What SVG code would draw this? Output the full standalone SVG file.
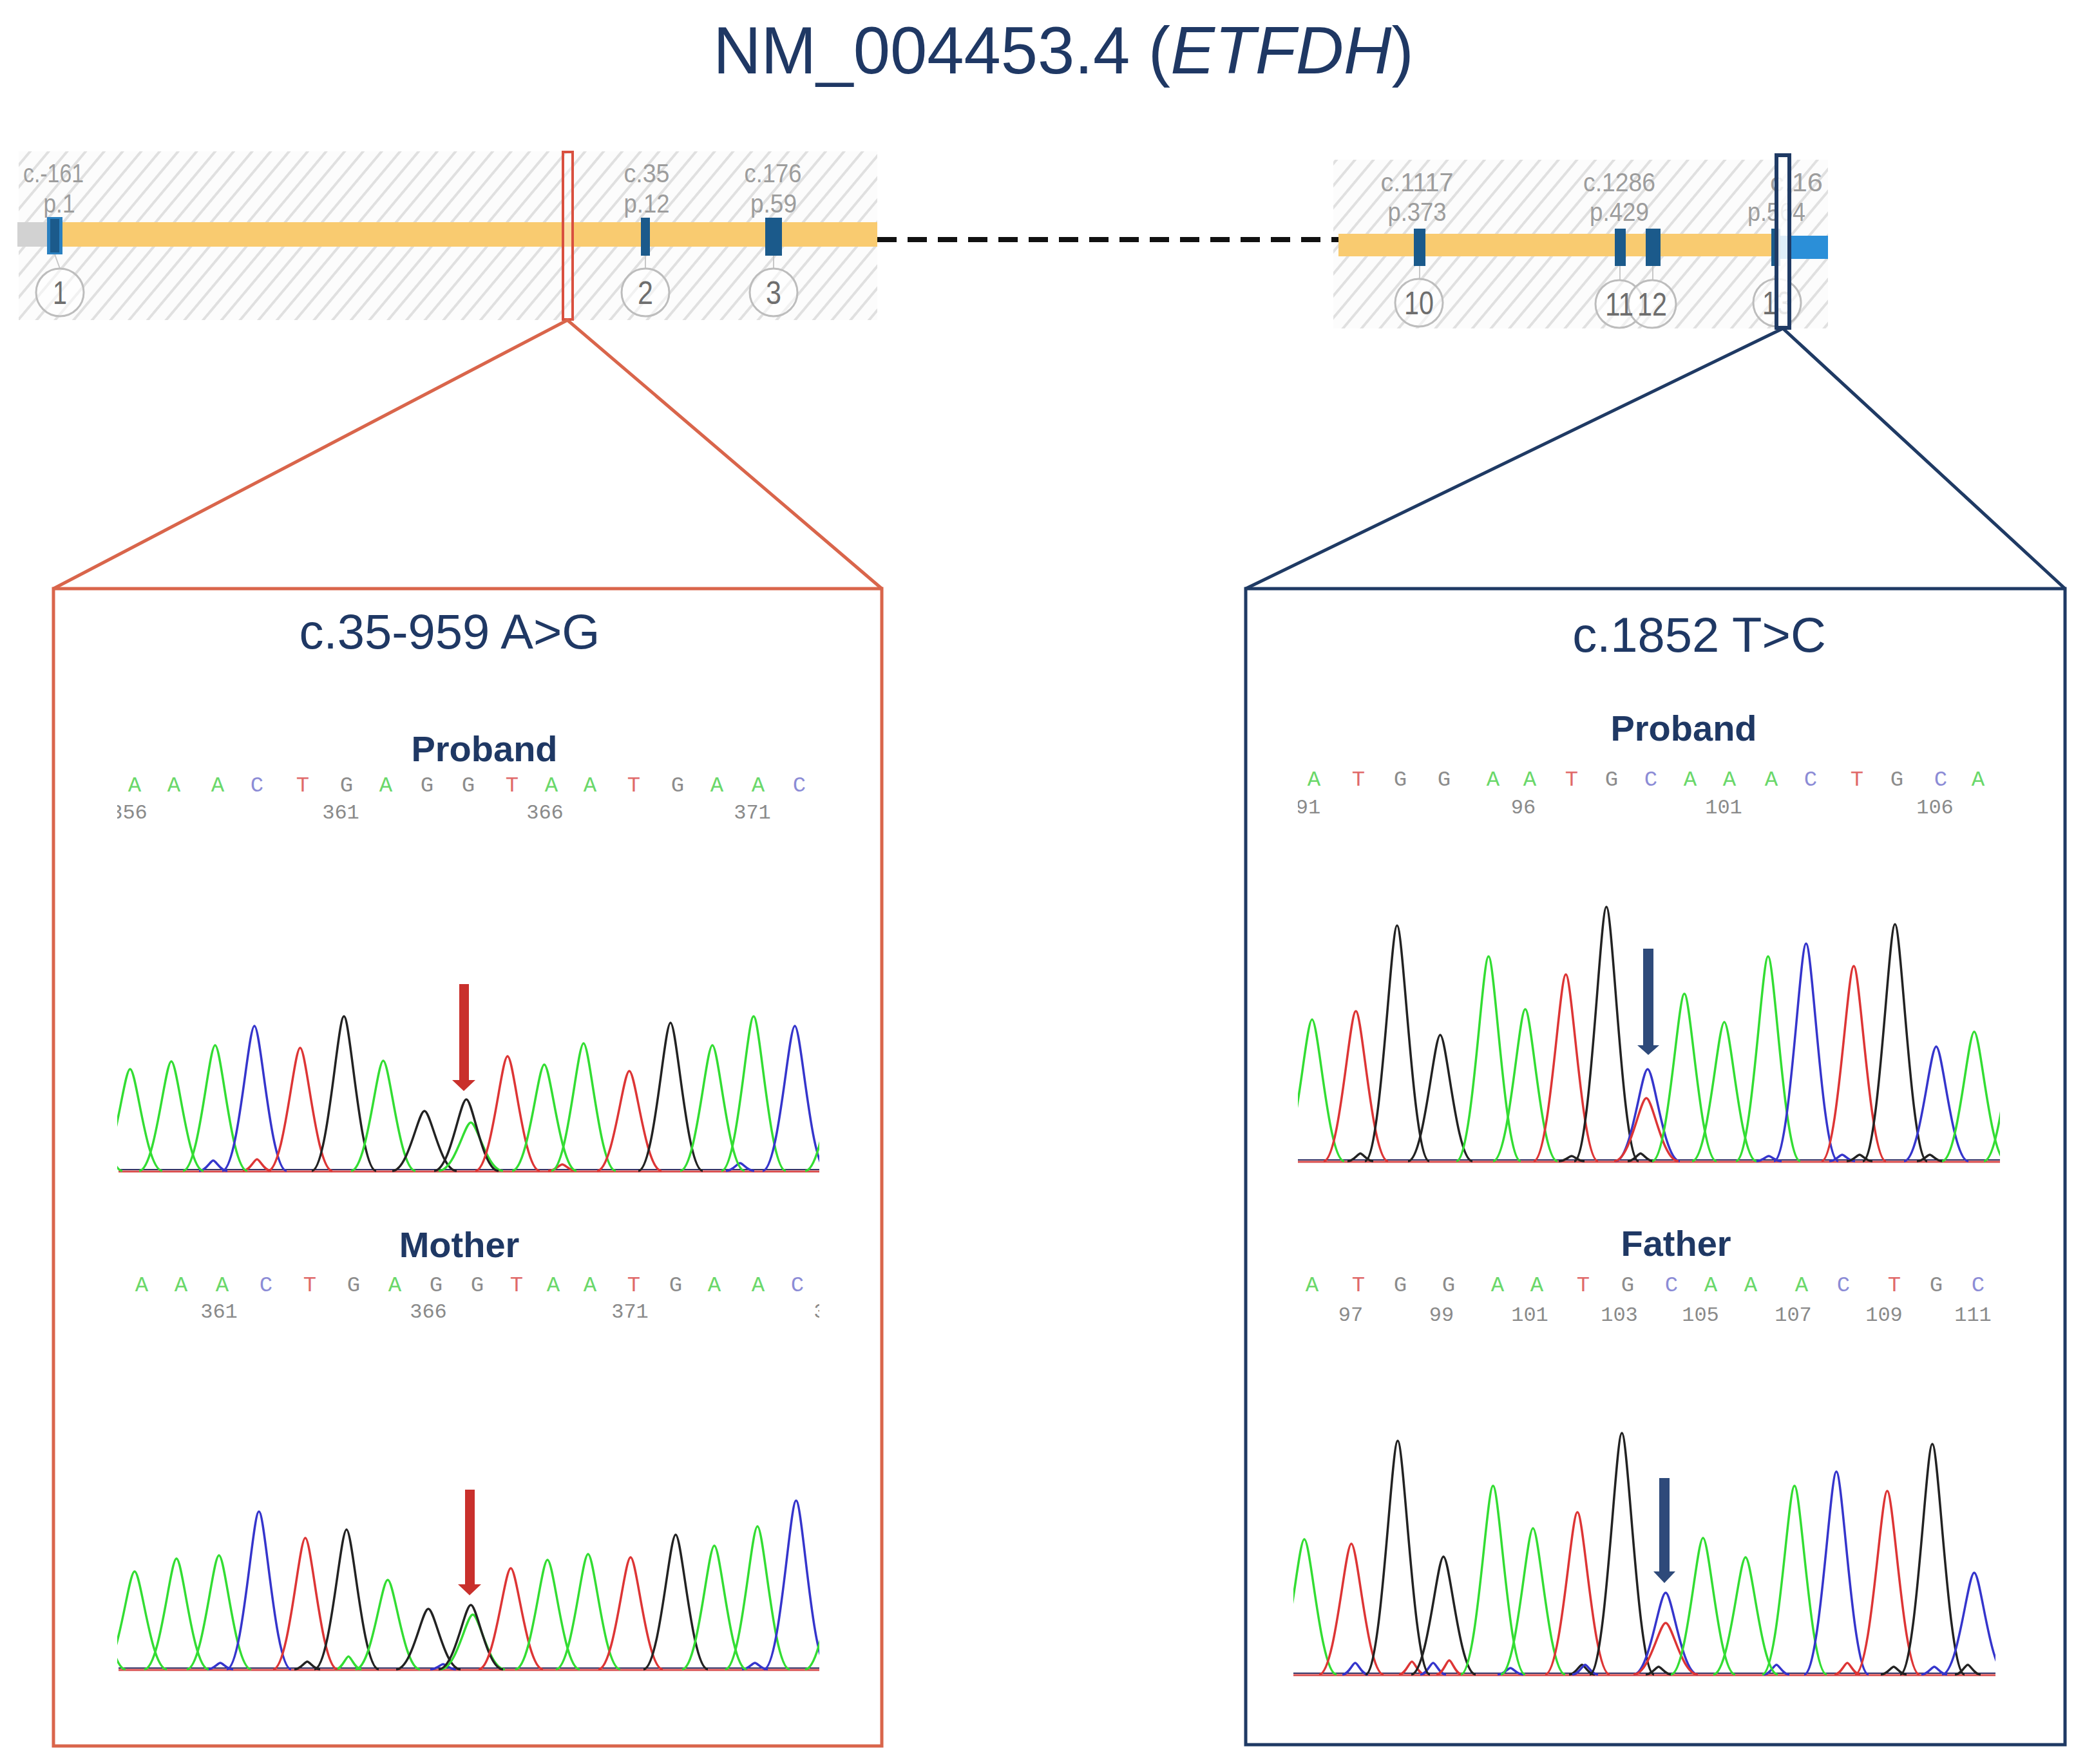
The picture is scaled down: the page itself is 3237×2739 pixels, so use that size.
<svg xmlns="http://www.w3.org/2000/svg" xmlns:xlink="http://www.w3.org/1999/xlink" width="3237" height="2739" viewBox="0 0 3237 2739">
<style>
.sans{font-family:"Liberation Sans",Arial,sans-serif}
.lbl{font-family:"Liberation Sans",Arial,sans-serif;font-size:40px;fill:#9d9d9d;text-anchor:middle}
.cnum{font-family:"Liberation Sans",Arial,sans-serif;font-size:50px;fill:#6e6e6e;text-anchor:middle}
.circ{fill:#ffffff;fill-opacity:0.55;stroke:#bdbdbd;stroke-width:3}
.tick{stroke:#c8c8c8;stroke-width:2}
.exon{fill:#1b5a8b}
.hd{font-family:"Liberation Sans",Arial,sans-serif;font-size:56px;font-weight:bold;fill:#1f3864;text-anchor:middle}
.ttl{font-family:"Liberation Sans",Arial,sans-serif;font-size:76px;fill:#1f3864;text-anchor:middle}
.seq{font-family:"Liberation Mono","Courier New",monospace;font-size:34px;text-anchor:middle}
.A{fill:#6ad86a}.C{fill:#8c8cd6}.T{fill:#e06a6a}.G{fill:#8c8c8c}
.num{font-family:"Liberation Mono","Courier New",monospace;font-size:32px;fill:#8a8a8a;text-anchor:middle}
.tr{fill:none;stroke-width:3.5}
.g{stroke:#33dd33}.b{stroke:#3535cc}.r{stroke:#dd3535}.k{stroke:#222222}
.redc{stroke:#d9654b;stroke-width:5;fill:none}
.navc{stroke:#1f3a64;stroke-width:5;fill:none}
</style>
<defs>
<pattern id="hatch" width="22" height="22" patternUnits="userSpaceOnUse" patternTransform="rotate(40)">
<rect width="22" height="22" fill="#fcfcfc"/>
<line x1="11" y1="0" x2="11" y2="22" stroke="#e0e0e0" stroke-width="4"/>
</pattern>
<path id="pk" d="M-1,0 C-0.5,0 -0.2,-1 0,-1 C0.2,-1 0.5,0 1,0" vector-effect="non-scaling-stroke"/>
<clipPath id="cL"><rect x="182" y="1100" width="1090" height="1550"/></clipPath>
<clipPath id="cRP"><rect x="2015" y="1100" width="1090" height="760"/></clipPath>
<clipPath id="cRF"><rect x="2008" y="1880" width="1090" height="760"/></clipPath>
</defs>
<rect width="3237" height="2739" fill="#ffffff"/>

<g id="title">
<text class="sans" x="1651" y="114" font-size="103" fill="#1f3864" text-anchor="middle">NM_004453.4 (<tspan font-style="italic">ETFDH</tspan>)</text>
</g>

<g id="gene-left">
<rect x="29" y="235" width="1333" height="262" fill="url(#hatch)"/>
<rect x="27" y="345" width="50" height="38" fill="#d2d2d2"/>
<rect x="75" y="345" width="1287" height="38" fill="#f9cb70"/>
<rect x="73" y="337" width="24" height="58" fill="#2a80c0"/>
<rect x="78" y="340" width="14" height="52" fill="#1b5a8b"/>
<rect class="exon" x="995" y="338" width="14" height="59"/>
<rect class="exon" x="1188" y="338" width="26" height="59"/>
<line class="tick" x1="85" y1="395" x2="93" y2="417"/>
<line class="tick" x1="1002" y1="397" x2="1002" y2="417"/>
<line class="tick" x1="1201" y1="397" x2="1201" y2="417"/>
<circle class="circ" cx="93" cy="454" r="37"/>
<circle class="circ" cx="1002" cy="454" r="37"/>
<circle class="circ" cx="1201" cy="454" r="37"/>
<text class="cnum" x="93" y="472" textLength="22" lengthAdjust="spacingAndGlyphs">1</text>
<text class="cnum" x="1002" y="472" textLength="24" lengthAdjust="spacingAndGlyphs">2</text>
<text class="cnum" x="1201" y="472" textLength="24" lengthAdjust="spacingAndGlyphs">3</text>
<text class="lbl" x="83" y="283" textLength="94" lengthAdjust="spacingAndGlyphs">c.-161</text>
<text class="lbl" x="92" y="330" textLength="49" lengthAdjust="spacingAndGlyphs">p.1</text>
<text class="lbl" x="1004" y="283" textLength="71" lengthAdjust="spacingAndGlyphs">c.35</text>
<text class="lbl" x="1004" y="330" textLength="71" lengthAdjust="spacingAndGlyphs">p.12</text>
<text class="lbl" x="1200" y="283" textLength="89" lengthAdjust="spacingAndGlyphs">c.176</text>
<text class="lbl" x="1201" y="330" textLength="72" lengthAdjust="spacingAndGlyphs">p.59</text>
<rect x="874" y="236" width="15" height="260" fill="#ffffff" fill-opacity="0.35" stroke="#d9503f" stroke-width="4"/>
</g>

<g id="gene-right">
<rect x="2070" y="248" width="768" height="262" fill="url(#hatch)"/>
<rect x="2078" y="363" width="680" height="35" fill="#f9cb70"/>
<rect x="2756" y="366" width="82" height="36" fill="#2b8fd8"/>
<rect class="exon" x="2195" y="355" width="18" height="58"/>
<rect class="exon" x="2507" y="355" width="17" height="58"/>
<rect class="exon" x="2555" y="355" width="23" height="58"/>
<rect class="exon" x="2750" y="355" width="14" height="58"/>
<line class="tick" x1="2204" y1="413" x2="2204" y2="433"/>
<line class="tick" x1="2515" y1="413" x2="2515" y2="435"/>
<line class="tick" x1="2566" y1="413" x2="2566" y2="435"/>
<circle class="circ" cx="2203" cy="470" r="37"/>
<circle class="circ" cx="2514" cy="472" r="37"/>
<circle class="circ" cx="2565" cy="472" r="37"/>
<circle class="circ" cx="2759" cy="470" r="37"/>
<text class="cnum" x="2203" y="488" textLength="46" lengthAdjust="spacingAndGlyphs">10</text>
<text class="cnum" x="2514" y="490" textLength="44" lengthAdjust="spacingAndGlyphs">11</text>
<text class="cnum" x="2565" y="490" textLength="46" lengthAdjust="spacingAndGlyphs">12</text>
<text class="cnum" x="2759" y="488" textLength="46" lengthAdjust="spacingAndGlyphs">13</text>
<text class="lbl" x="2200" y="297" textLength="113" lengthAdjust="spacingAndGlyphs">c.1117</text>
<text class="lbl" x="2200" y="343" textLength="91" lengthAdjust="spacingAndGlyphs">p.373</text>
<text class="lbl" x="2514" y="297" textLength="112" lengthAdjust="spacingAndGlyphs">c.1286</text>
<text class="lbl" x="2514" y="343" textLength="92" lengthAdjust="spacingAndGlyphs">p.429</text>
<text class="lbl" x="2748" y="297" textLength="82" lengthAdjust="spacingAndGlyphs" style="text-anchor:start">c.16</text>
<text class="lbl" x="2758" y="343" textLength="90" lengthAdjust="spacingAndGlyphs">p.564</text>
<rect x="2758" y="241" width="20" height="268" fill="#ffffff" fill-opacity="0.85" stroke="#1f3a64" stroke-width="6"/>
</g>

<g id="connectors">
<line x1="1362" y1="372" x2="2078" y2="372" stroke="#111111" stroke-width="8" stroke-dasharray="30 17"/>
<polyline class="redc" points="83,914 881,497 1369,914"/>
<polyline class="navc" points="1934,914 2768,510 3206,914"/>
</g>

<g id="panel-left">
<rect class="redc" x="83" y="914" width="1286" height="1797"/>
<text class="ttl" x="698" y="1007">c.35-959 A&gt;G</text>
<text class="hd" x="752" y="1182">Proband</text>
<g clip-path="url(#cL)">
<text class="seq" y="1229"><tspan class="A" x="209">A</tspan><tspan class="A" x="270">A</tspan><tspan class="A" x="338">A</tspan><tspan class="C" x="399">C</tspan><tspan class="T" x="470">T</tspan><tspan class="G" x="538">G</tspan><tspan class="A" x="599">A</tspan><tspan class="G" x="663">G</tspan><tspan class="G" x="727">G</tspan><tspan class="T" x="795">T</tspan><tspan class="A" x="856">A</tspan><tspan class="A" x="916">A</tspan><tspan class="T" x="984">T</tspan><tspan class="G" x="1052">G</tspan><tspan class="A" x="1113">A</tspan><tspan class="A" x="1177">A</tspan><tspan class="C" x="1241">C</tspan></text>
<text class="num" y="1271"><tspan x="200">356</tspan><tspan x="529">361</tspan><tspan x="846">366</tspan><tspan x="1168">371</tspan></text>
<line x1="184" y1="1819" x2="1272" y2="1819" stroke="#d84a4a" stroke-width="3"/>
<line x1="184" y1="1816" x2="1272" y2="1816" stroke="#333366" stroke-width="2"/>
<use href="#pk" class="tr b" transform="translate(331,1818) scale(22,16)"/>
<use href="#pk" class="tr r" transform="translate(399,1818) scale(22,18)"/>
<use href="#pk" class="tr r" transform="translate(873,1818) scale(22,10)"/>
<use href="#pk" class="tr b" transform="translate(1149,1818) scale(22,12)"/>
<use href="#pk" class="tr g" transform="translate(140,1818) scale(50,150)"/>
<use href="#pk" class="tr g" transform="translate(202,1818) scale(50,158)"/>
<use href="#pk" class="tr g" transform="translate(266,1818) scale(50,170)"/>
<use href="#pk" class="tr g" transform="translate(334,1818) scale(50,195)"/>
<use href="#pk" class="tr b" transform="translate(395,1818) scale(50,225)"/>
<use href="#pk" class="tr r" transform="translate(466,1818) scale(50,191)"/>
<use href="#pk" class="tr k" transform="translate(534,1818) scale(50,240)"/>
<use href="#pk" class="tr g" transform="translate(595,1818) scale(50,171)"/>
<use href="#pk" class="tr k" transform="translate(659,1818) scale(50,93)"/>
<use href="#pk" class="tr g" transform="translate(731,1818) scale(50,75)"/>
<use href="#pk" class="tr k" transform="translate(724,1818) scale(50,111)"/>
<use href="#pk" class="tr r" transform="translate(788,1818) scale(50,178)"/>
<use href="#pk" class="tr g" transform="translate(845,1818) scale(50,165)"/>
<use href="#pk" class="tr g" transform="translate(906,1818) scale(50,198)"/>
<use href="#pk" class="tr r" transform="translate(977,1818) scale(50,155)"/>
<use href="#pk" class="tr k" transform="translate(1041,1818) scale(50,230)"/>
<use href="#pk" class="tr g" transform="translate(1106,1818) scale(50,195)"/>
<use href="#pk" class="tr g" transform="translate(1170,1818) scale(50,240)"/>
<use href="#pk" class="tr b" transform="translate(1234,1818) scale(50,225)"/>
<use href="#pk" class="tr g" transform="translate(1300,1818) scale(50,150)"/>

<text class="hd" x="713" y="1952">Mother</text>
<text class="seq" y="2005"><tspan class="A" x="220">A</tspan><tspan class="A" x="281">A</tspan><tspan class="A" x="345">A</tspan><tspan class="C" x="413">C</tspan><tspan class="T" x="481">T</tspan><tspan class="G" x="549">G</tspan><tspan class="A" x="613">A</tspan><tspan class="G" x="677">G</tspan><tspan class="G" x="741">G</tspan><tspan class="T" x="802">T</tspan><tspan class="A" x="859">A</tspan><tspan class="A" x="916">A</tspan><tspan class="T" x="984">T</tspan><tspan class="G" x="1049">G</tspan><tspan class="A" x="1109">A</tspan><tspan class="A" x="1177">A</tspan><tspan class="C" x="1238">C</tspan></text>
<text class="num" y="2046"><tspan x="340">361</tspan><tspan x="665">366</tspan><tspan x="978">371</tspan><tspan x="1292">376</tspan></text>
<line x1="184" y1="2593" x2="1272" y2="2593" stroke="#d84a4a" stroke-width="3"/>
<line x1="184" y1="2590" x2="1272" y2="2590" stroke="#333366" stroke-width="2"/>
<use href="#pk" class="tr b" transform="translate(342,2592) scale(20,10)"/>
<use href="#pk" class="tr k" transform="translate(477,2592) scale(20,12)"/>
<use href="#pk" class="tr g" transform="translate(541,2592) scale(20,20)"/>
<use href="#pk" class="tr b" transform="translate(688,2592) scale(20,8)"/>
<use href="#pk" class="tr b" transform="translate(1172,2592) scale(20,10)"/>
<use href="#pk" class="tr g" transform="translate(145,2592) scale(50,150)"/>
<use href="#pk" class="tr g" transform="translate(209,2592) scale(50,152)"/>
<use href="#pk" class="tr g" transform="translate(274,2592) scale(50,172)"/>
<use href="#pk" class="tr g" transform="translate(340,2592) scale(50,177)"/>
<use href="#pk" class="tr b" transform="translate(402,2592) scale(50,245)"/>
<use href="#pk" class="tr r" transform="translate(474,2592) scale(50,204)"/>
<use href="#pk" class="tr k" transform="translate(538,2592) scale(50,217)"/>
<use href="#pk" class="tr g" transform="translate(602,2592) scale(50,139)"/>
<use href="#pk" class="tr k" transform="translate(665,2592) scale(50,94)"/>
<use href="#pk" class="tr g" transform="translate(734,2592) scale(50,85)"/>
<use href="#pk" class="tr k" transform="translate(731,2592) scale(50,100)"/>
<use href="#pk" class="tr r" transform="translate(793,2592) scale(50,157)"/>
<use href="#pk" class="tr g" transform="translate(850,2592) scale(50,170)"/>
<use href="#pk" class="tr g" transform="translate(913,2592) scale(50,179)"/>
<use href="#pk" class="tr r" transform="translate(979,2592) scale(50,174)"/>
<use href="#pk" class="tr k" transform="translate(1049,2592) scale(50,209)"/>
<use href="#pk" class="tr g" transform="translate(1109,2592) scale(50,192)"/>
<use href="#pk" class="tr g" transform="translate(1176,2592) scale(50,222)"/>
<use href="#pk" class="tr b" transform="translate(1236,2592) scale(50,262)"/>
<use href="#pk" class="tr g" transform="translate(1300,2592) scale(50,150)"/>
</g>
<path d="M713,1528 h15 v149 h10 l-18,17 l-18,-17 h11 z" fill="#c9302c"/>
<path d="M722,2313 h15 v147 h10 l-18,17 l-18,-17 h11 z" fill="#c9302c"/>
</g>

<g id="panel-right">
<rect class="navc" x="1934" y="914" width="1272" height="1795"/>
<text class="ttl" x="2638" y="1012">c.1852 T&gt;C</text>
<text class="hd" x="2614" y="1150">Proband</text>
<g clip-path="url(#cRP)">
<text class="seq" y="1220"><tspan class="A" x="2040">A</tspan><tspan class="T" x="2109">T</tspan><tspan class="G" x="2174">G</tspan><tspan class="G" x="2242">G</tspan><tspan class="A" x="2318">A</tspan><tspan class="A" x="2375">A</tspan><tspan class="T" x="2440">T</tspan><tspan class="G" x="2502">G</tspan><tspan class="C" x="2563">C</tspan><tspan class="A" x="2624">A</tspan><tspan class="A" x="2685">A</tspan><tspan class="A" x="2750">A</tspan><tspan class="C" x="2811">C</tspan><tspan class="T" x="2883">T</tspan><tspan class="G" x="2945">G</tspan><tspan class="C" x="3013">C</tspan><tspan class="A" x="3071">A</tspan></text>
<text class="num" y="1263"><tspan x="2031">91</tspan><tspan x="2365">96</tspan><tspan x="2676">101</tspan><tspan x="3004">106</tspan></text>
<line x1="2015" y1="1804" x2="3105" y2="1804" stroke="#d84a4a" stroke-width="3"/>
<line x1="2015" y1="1801" x2="3105" y2="1801" stroke="#333366" stroke-width="2"/>
<use href="#pk" class="tr k" transform="translate(2112,1803) scale(20,12)"/>
<use href="#pk" class="tr k" transform="translate(2440,1803) scale(20,8)"/>
<use href="#pk" class="tr k" transform="translate(2547,1803) scale(20,12)"/>
<use href="#pk" class="tr b" transform="translate(2746,1803) scale(20,8)"/>
<use href="#pk" class="tr b" transform="translate(2860,1803) scale(20,10)"/>
<use href="#pk" class="tr k" transform="translate(2887,1803) scale(20,10)"/>
<use href="#pk" class="tr k" transform="translate(2996,1803) scale(20,10)"/>
<use href="#pk" class="tr g" transform="translate(2037,1803) scale(50,220)"/>
<use href="#pk" class="tr r" transform="translate(2105,1803) scale(50,233)"/>
<use href="#pk" class="tr k" transform="translate(2169,1803) scale(50,366)"/>
<use href="#pk" class="tr k" transform="translate(2236,1803) scale(50,196)"/>
<use href="#pk" class="tr g" transform="translate(2311,1803) scale(50,318)"/>
<use href="#pk" class="tr g" transform="translate(2368,1803) scale(50,236)"/>
<use href="#pk" class="tr r" transform="translate(2431,1803) scale(50,290)"/>
<use href="#pk" class="tr k" transform="translate(2494,1803) scale(50,395)"/>
<use href="#pk" class="tr b" transform="translate(2558,1803) scale(50,143)"/>
<use href="#pk" class="tr r" transform="translate(2556,1803) scale(50,98)"/>
<use href="#pk" class="tr g" transform="translate(2615,1803) scale(50,260)"/>
<use href="#pk" class="tr g" transform="translate(2677,1803) scale(50,216)"/>
<use href="#pk" class="tr g" transform="translate(2745,1803) scale(50,318)"/>
<use href="#pk" class="tr b" transform="translate(2804,1803) scale(50,338)"/>
<use href="#pk" class="tr r" transform="translate(2878,1803) scale(50,303)"/>
<use href="#pk" class="tr k" transform="translate(2942,1803) scale(50,368)"/>
<use href="#pk" class="tr b" transform="translate(3006,1803) scale(50,178)"/>
<use href="#pk" class="tr g" transform="translate(3065,1803) scale(50,201)"/>
<use href="#pk" class="tr g" transform="translate(3130,1803) scale(50,200)"/>
</g>
<text class="hd" x="2602" y="1950">Father</text>
<g clip-path="url(#cRF)">
<text class="seq" y="2005"><tspan class="A" x="2037">A</tspan><tspan class="T" x="2109">T</tspan><tspan class="G" x="2174">G</tspan><tspan class="G" x="2249">G</tspan><tspan class="A" x="2325">A</tspan><tspan class="A" x="2386">A</tspan><tspan class="T" x="2458">T</tspan><tspan class="G" x="2527">G</tspan><tspan class="C" x="2595">C</tspan><tspan class="A" x="2656">A</tspan><tspan class="A" x="2718">A</tspan><tspan class="A" x="2797">A</tspan><tspan class="C" x="2862">C</tspan><tspan class="T" x="2941">T</tspan><tspan class="G" x="3006">G</tspan><tspan class="C" x="3071">C</tspan></text>
<text class="num" y="2051"><tspan x="2097">97</tspan><tspan x="2238">99</tspan><tspan x="2375">101</tspan><tspan x="2514">103</tspan><tspan x="2640">105</tspan><tspan x="2784">107</tspan><tspan x="2925">109</tspan><tspan x="3063">111</tspan></text>
<line x1="2008" y1="2601" x2="3098" y2="2601" stroke="#d84a4a" stroke-width="3"/>
<line x1="2008" y1="2598" x2="3098" y2="2598" stroke="#333366" stroke-width="2"/>
<use href="#pk" class="tr b" transform="translate(2104,2600) scale(20,18)"/>
<use href="#pk" class="tr r" transform="translate(2192,2600) scale(20,20)"/>
<use href="#pk" class="tr b" transform="translate(2225,2600) scale(20,18)"/>
<use href="#pk" class="tr r" transform="translate(2250,2600) scale(20,22)"/>
<use href="#pk" class="tr b" transform="translate(2345,2600) scale(20,10)"/>
<use href="#pk" class="tr k" transform="translate(2456,2600) scale(20,15)"/>
<use href="#pk" class="tr b" transform="translate(2461,2600) scale(20,15)"/>
<use href="#pk" class="tr k" transform="translate(2575,2600) scale(20,12)"/>
<use href="#pk" class="tr b" transform="translate(2758,2600) scale(20,15)"/>
<use href="#pk" class="tr r" transform="translate(2868,2600) scale(20,18)"/>
<use href="#pk" class="tr k" transform="translate(2940,2600) scale(20,12)"/>
<use href="#pk" class="tr b" transform="translate(3003,2600) scale(20,12)"/>
<use href="#pk" class="tr k" transform="translate(3055,2600) scale(20,15)"/>
<use href="#pk" class="tr g" transform="translate(2025,2600) scale(50,210)"/>
<use href="#pk" class="tr r" transform="translate(2098,2600) scale(50,203)"/>
<use href="#pk" class="tr k" transform="translate(2170,2600) scale(50,363)"/>
<use href="#pk" class="tr k" transform="translate(2241,2600) scale(50,183)"/>
<use href="#pk" class="tr g" transform="translate(2318,2600) scale(50,293)"/>
<use href="#pk" class="tr g" transform="translate(2380,2600) scale(50,227)"/>
<use href="#pk" class="tr r" transform="translate(2449,2600) scale(50,252)"/>
<use href="#pk" class="tr k" transform="translate(2518,2600) scale(50,375)"/>
<use href="#pk" class="tr b" transform="translate(2586,2600) scale(50,127)"/>
<use href="#pk" class="tr r" transform="translate(2586,2600) scale(50,80)"/>
<use href="#pk" class="tr g" transform="translate(2644,2600) scale(50,212)"/>
<use href="#pk" class="tr g" transform="translate(2710,2600) scale(50,182)"/>
<use href="#pk" class="tr g" transform="translate(2786,2600) scale(50,293)"/>
<use href="#pk" class="tr b" transform="translate(2851,2600) scale(50,315)"/>
<use href="#pk" class="tr r" transform="translate(2930,2600) scale(50,285)"/>
<use href="#pk" class="tr k" transform="translate(3000,2600) scale(50,358)"/>
<use href="#pk" class="tr b" transform="translate(3065,2600) scale(50,158)"/>
</g>
<path d="M2551,1473 h16 v150 h9 l-17,15 l-17,-15 h9 z" fill="#2e4a7a"/>
<path d="M2576,2295 h16 v145 h9 l-17,18 l-17,-18 h9 z" fill="#2e4a7a"/>
</g>
</svg>
